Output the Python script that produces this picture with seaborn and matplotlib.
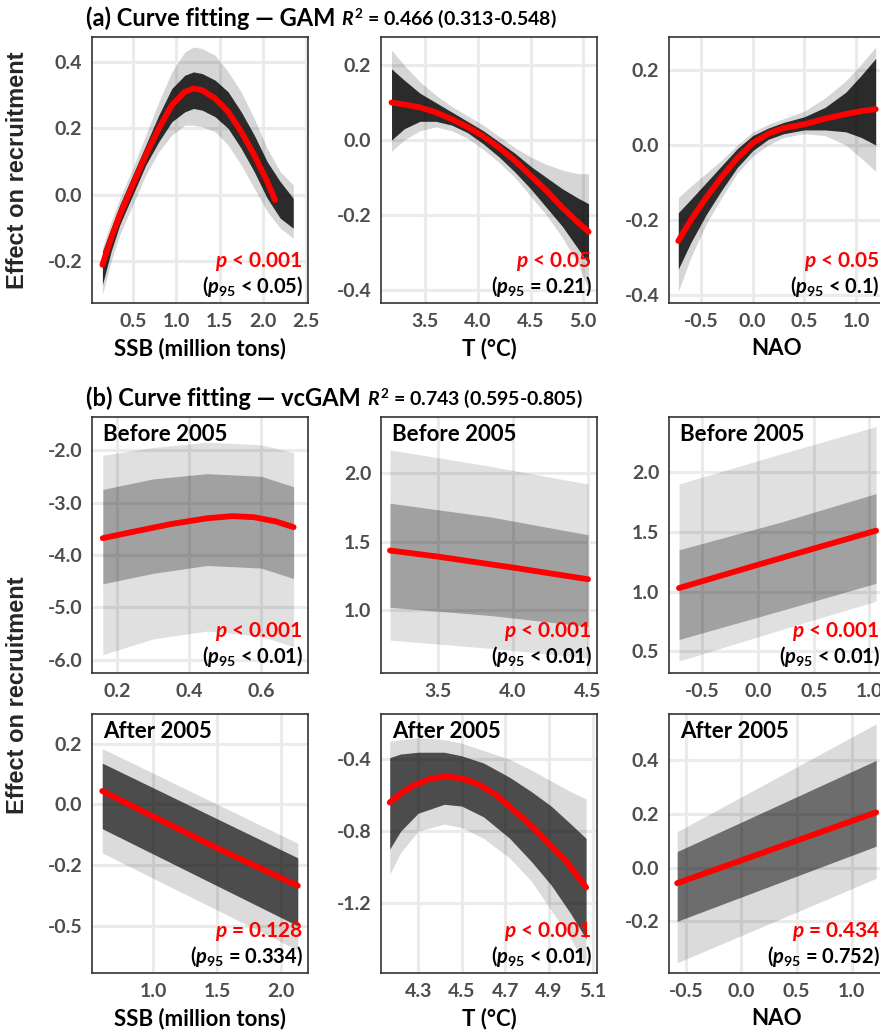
import numpy as np
import pandas as pd
import matplotlib
matplotlib.use("Agg")
import matplotlib.pyplot as plt
import seaborn as sns
from matplotlib.ticker import FixedLocator, FormatStrFormatter

# ---------------- data ----------------
# (a) GAM : SSB
a_ssb_x = [0.15, 0.25, 0.35, 0.5, 0.65, 0.8, 0.95, 1.1, 1.2, 1.3, 1.45, 1.6, 1.75, 1.9, 2.05, 2.14]
a_ssb_fit = [-0.21, -0.13, -0.06, 0.03, 0.12, 0.2, 0.27, 0.31, 0.32, 0.315, 0.29, 0.25, 0.19, 0.12, 0.04, -0.015]
a_ssb_bx = [0.15, 0.25, 0.35, 0.5, 0.65, 0.8, 0.95, 1.1, 1.2, 1.3, 1.45, 1.6, 1.75, 1.9, 2.05, 2.2, 2.35]
a_ssb_out_lo = [-0.30, -0.20, -0.12, -0.03, 0.06, 0.13, 0.18, 0.21, 0.21, 0.205, 0.19, 0.15, 0.09, 0.02, -0.05, -0.10, -0.13]
a_ssb_in_lo = [-0.27, -0.17, -0.09, 0.0, 0.09, 0.16, 0.22, 0.25, 0.26, 0.255, 0.235, 0.2, 0.14, 0.07, -0.01, -0.07, -0.10]
a_ssb_in_hi = [-0.17, -0.10, -0.03, 0.06, 0.15, 0.24, 0.32, 0.36, 0.37, 0.365, 0.345, 0.31, 0.25, 0.18, 0.10, 0.04, -0.01]
a_ssb_out_hi = [-0.16, -0.08, -0.01, 0.08, 0.18, 0.28, 0.37, 0.43, 0.445, 0.44, 0.42, 0.37, 0.31, 0.23, 0.14, 0.07, 0.03]

# (a) GAM : T
a_t_x = [3.18, 3.3, 3.45, 3.6, 3.75, 3.9, 4.05, 4.2, 4.35, 4.5, 4.65, 4.8, 4.95, 5.05]
a_t_fit = [0.10, 0.095, 0.087, 0.074, 0.056, 0.035, 0.01, -0.02, -0.055, -0.095, -0.135, -0.18, -0.22, -0.245]
a_t_out_lo = [-0.03, 0.0, 0.025, 0.035, 0.025, 0.005, -0.025, -0.06, -0.1, -0.15, -0.2, -0.26, -0.33, -0.40]
a_t_in_lo = [0.0, 0.03, 0.05, 0.05, 0.04, 0.02, -0.01, -0.045, -0.085, -0.13, -0.18, -0.23, -0.29, -0.33]
a_t_in_hi = [0.19, 0.16, 0.125, 0.1, 0.075, 0.05, 0.025, -0.005, -0.035, -0.07, -0.1, -0.13, -0.155, -0.17]
a_t_out_hi = [0.24, 0.2, 0.155, 0.12, 0.09, 0.065, 0.04, 0.01, -0.02, -0.045, -0.065, -0.08, -0.09, -0.09]

# (a) GAM : NAO
a_nao_x = [-0.72, -0.6, -0.45, -0.3, -0.15, 0.0, 0.15, 0.3, 0.5, 0.7, 0.9, 1.05, 1.19]
a_nao_fit = [-0.255, -0.2, -0.14, -0.085, -0.035, 0.005, 0.03, 0.045, 0.055, 0.07, 0.082, 0.09, 0.095]
a_nao_out_lo = [-0.39, -0.3, -0.21, -0.14, -0.075, -0.03, 0.0, 0.02, 0.03, 0.025, 0.0, -0.035, -0.07]
a_nao_in_lo = [-0.33, -0.26, -0.185, -0.12, -0.06, -0.015, 0.015, 0.03, 0.04, 0.04, 0.035, 0.02, 0.0]
a_nao_in_hi = [-0.18, -0.145, -0.1, -0.055, -0.01, 0.025, 0.045, 0.06, 0.075, 0.1, 0.14, 0.185, 0.23]
a_nao_out_hi = [-0.14, -0.11, -0.075, -0.04, 0.0, 0.035, 0.055, 0.07, 0.09, 0.125, 0.17, 0.215, 0.26]

# (b) vcGAM before 2005 : SSB
b_ssb_x = [0.16, 0.25, 0.35, 0.45, 0.52, 0.58, 0.64, 0.69]
b_ssb_fit = [-3.68, -3.55, -3.41, -3.3, -3.26, -3.28, -3.36, -3.47]
b_ssb_bx = [0.16, 0.3, 0.45, 0.6, 0.69]
b_ssb_out_lo = [-5.9, -5.6, -5.45, -5.55, -5.75]
b_ssb_in_lo = [-4.55, -4.35, -4.2, -4.25, -4.45]
b_ssb_in_hi = [-2.75, -2.55, -2.45, -2.5, -2.7]
b_ssb_out_hi = [-2.1, -1.95, -1.85, -1.9, -2.05]

# (b) before 2005 : T
b_t_x = [3.18, 3.5, 4.0, 4.5]
b_t_fit = [1.435, 1.39, 1.31, 1.225]
b_t_bx = [3.18, 3.85, 4.5]
b_t_out_lo = [0.78, 0.72, 0.65]
b_t_in_lo = [1.02, 0.96, 0.88]
b_t_in_hi = [1.78, 1.68, 1.55]
b_t_out_hi = [2.17, 2.05, 1.92]

# (b) before 2005 : NAO
b_nao_x = [-0.71, 0.0, 0.5, 1.06]
b_nao_fit = [1.03, 1.225, 1.36, 1.51]
b_nao_bx = [-0.71, 0.2, 1.06]
b_nao_out_lo = [0.42, 0.68, 0.92]
b_nao_in_lo = [0.60, 0.84, 1.07]
b_nao_in_hi = [1.35, 1.58, 1.82]
b_nao_out_hi = [1.90, 2.15, 2.38]

# (b) after 2005 : SSB
c_ssb_x = [0.6, 1.0, 1.5, 2.13]
c_ssb_fit = [0.055, -0.05, -0.18, -0.335]
c_ssb_bx = [0.6, 2.13]
c_ssb_out_lo = [-0.20, -0.60]
c_ssb_in_lo = [-0.10, -0.50]
c_ssb_in_hi = [0.17, -0.22]
c_ssb_out_hi = [0.23, -0.16]

# (b) after 2005 : T
c_t_x = [4.17, 4.22, 4.28, 4.35, 4.42, 4.5, 4.58, 4.66, 4.74, 4.82, 4.9, 4.98, 5.07]
c_t_fit = [-0.64, -0.59, -0.545, -0.51, -0.495, -0.505, -0.54, -0.6, -0.685, -0.77, -0.87, -0.97, -1.113]
c_t_bx = [4.17, 4.22, 4.3, 4.42, 4.5, 4.6, 4.72, 4.82, 4.91, 5.0, 5.07]
c_t_out_lo = [-1.04, -0.92, -0.8, -0.76, -0.78, -0.84, -0.95, -1.08, -1.24, -1.4, -1.55]
c_t_in_lo = [-0.9, -0.8, -0.7, -0.65, -0.66, -0.72, -0.84, -0.97, -1.1, -1.26, -1.4]
c_t_in_hi = [-0.39, -0.37, -0.36, -0.36, -0.38, -0.42, -0.5, -0.58, -0.66, -0.76, -0.84]
c_t_out_hi = [-0.30, -0.29, -0.28, -0.29, -0.31, -0.35, -0.40, -0.46, -0.52, -0.58, -0.62]

# (b) after 2005 : NAO
c_nao_x = [-0.58, 1.22]
c_nao_fit = [-0.058, 0.206]
c_nao_out_lo = [-0.355, -0.04]
c_nao_in_lo = [-0.20, 0.08]
c_nao_in_hi = [0.06, 0.40]
c_nao_out_hi = [0.134, 0.536]

# tick positions
a_ssb_xt = [0.5, 1.0, 1.5, 2.0, 2.5]; a_ssb_yt = [-0.2, 0.0, 0.2, 0.4]
a_t_xt = [3.5, 4.0, 4.5, 5.0]; a_t_yt = [-0.4, -0.2, 0.0, 0.2]
a_nao_xt = [-0.5, 0.0, 0.5, 1.0]; a_nao_yt = [-0.4, -0.2, 0.0, 0.2]
b_ssb_xt = [0.2, 0.4, 0.6]; b_ssb_yt = [-6.0, -5.0, -4.0, -3.0, -2.0]
b_t_xt = [3.5, 4.0, 4.5]; b_t_yt = [1.0, 1.5, 2.0]
b_nao_xt = [-0.5, 0.0, 0.5, 1.0]; b_nao_yt = [0.5, 1.0, 1.5, 2.0]
c_ssb_xt = [1.0, 1.5, 2.0]; c_ssb_yt = [-0.5, -0.25, 0.0, 0.25]
c_t_xt = [4.3, 4.5, 4.7, 4.9, 5.1]; c_t_yt = [-1.2, -0.8, -0.4]
c_nao_xt = [-0.5, 0.0, 0.5, 1.0]; c_nao_yt = [-0.2, 0.0, 0.2, 0.4]

p_main = ["< 0.001", "< 0.05", "< 0.05",
          "< 0.001", "< 0.001", "< 0.001",
          "= 0.128", "< 0.001", "= 0.434"]
p_95 = ["< 0.05", "= 0.21", "< 0.1",
        "< 0.01", "< 0.01", "< 0.01",
        "= 0.334", "< 0.01", "= 0.752"]
x_labels = ["SSB (million tons)", "T (°C)", "NAO"]

# ---------------- style ----------------
sns.set_theme(style="whitegrid")
plt.rcParams['font.family'] = ['Lato', 'DejaVu Sans']
plt.rcParams['font.weight'] = 'bold'
plt.rcParams['axes.labelweight'] = 'bold'
plt.rcParams['mathtext.fontset'] = 'custom'
plt.rcParams['mathtext.it'] = 'Lato:italic:bold'
plt.rcParams['mathtext.rm'] = 'Lato:bold'
plt.rcParams['mathtext.bf'] = 'Lato:bold'

W, H = 880, 1036
fig = plt.figure(figsize=(W / 100, H / 100), dpi=100, facecolor='white')

cols = [(92, 308), (381, 597), (669, 885)]
rows = [(37, 303), (417, 673), (714, 973)]


def add_ax(c, r):
    l, rr = cols[c]
    t, b = rows[r]
    return fig.add_axes([l / W, 1 - b / H, (rr - l) / W, (b - t) / H])


panels = [
    (a_ssb_x, a_ssb_fit, a_ssb_bx, a_ssb_out_lo, a_ssb_in_lo, a_ssb_in_hi, a_ssb_out_hi,
     (0.03, 2.52), (-0.325, 0.475), a_ssb_xt, a_ssb_yt, None, 0.16, 0.8),
    (a_t_x, a_t_fit, a_t_x, a_t_out_lo, a_t_in_lo, a_t_in_hi, a_t_out_hi,
     (3.08, 5.13), (-0.435, 0.275), a_t_xt, a_t_yt, None, 0.16, 0.8),
    (a_nao_x, a_nao_fit, a_nao_x, a_nao_out_lo, a_nao_in_lo, a_nao_in_hi, a_nao_out_hi,
     (-0.81, 1.28), (-0.42, 0.287), a_nao_xt, a_nao_yt, None, 0.16, 0.8),
    (b_ssb_x, b_ssb_fit, b_ssb_bx, b_ssb_out_lo, b_ssb_in_lo, b_ssb_in_hi, b_ssb_out_hi,
     (0.13, 0.73), (-6.25, -1.37), b_ssb_xt, b_ssb_yt, "Before 2005", 0.12, 0.28),
    (b_t_x, b_t_fit, b_t_bx, b_t_out_lo, b_t_in_lo, b_t_in_hi, b_t_out_hi,
     (3.12, 4.56), (0.54, 2.41), b_t_xt, b_t_yt, "Before 2005", 0.12, 0.28),
    (b_nao_x, b_nao_fit, b_nao_bx, b_nao_out_lo, b_nao_in_lo, b_nao_in_hi, b_nao_out_hi,
     (-0.8, 1.14), (0.32, 2.46), b_nao_xt, b_nao_yt, "Before 2005", 0.12, 0.28),
    (c_ssb_x, c_ssb_fit, c_ssb_bx, c_ssb_out_lo, c_ssb_in_lo, c_ssb_in_hi, c_ssb_out_hi,
     (0.52, 2.21), (-0.694, 0.372), c_ssb_xt, c_ssb_yt, "After 2005", 0.14, 0.65),
    (c_t_x, c_t_fit, c_t_bx, c_t_out_lo, c_t_in_lo, c_t_in_hi, c_t_out_hi,
     (4.13, 5.12), (-1.59, -0.147), c_t_xt, c_t_yt, "After 2005", 0.14, 0.65),
    (c_nao_x, c_nao_fit, c_nao_x, c_nao_out_lo, c_nao_in_lo, c_nao_in_hi, c_nao_out_hi,
     (-0.654, 1.3), (-0.393, 0.573), c_nao_xt, c_nao_yt, "After 2005", 0.14, 0.5),
]

px = 0.72  # pixels -> points at dpi 100

for i, (fx, fy, bx, olo, ilo, ihi, ohi, xl, yl, xt, yt, tag, a_out, a_in) in enumerate(panels):
    r, c = divmod(i, 3)
    ax = add_ax(c, r)
    ax.set_facecolor('white')

    # bootstrap envelope
    ax.fill_between(bx, olo, ohi, color='black', alpha=a_out, lw=0, zorder=2)
    ax.fill_between(bx, ilo, ihi, color='black', alpha=a_in, lw=0, zorder=3)

    # fitted curve
    sns.lineplot(x=fx, y=fy, ax=ax, color='red', lw=4.2, sort=False,
                 estimator=None, zorder=5)

    ax.set_xlim(*xl)
    ax.set_ylim(*yl)
    ax.xaxis.set_major_locator(FixedLocator(xt))
    ax.yaxis.set_major_locator(FixedLocator(yt))
    ax.xaxis.set_major_formatter(FormatStrFormatter('%.1f'))
    ax.yaxis.set_major_formatter(FormatStrFormatter('%.1f'))
    ax.grid(True, color='#EBEBEB', lw=2.2, zorder=0)
    ax.set_axisbelow(True)
    ax.tick_params(length=0, labelsize=14, labelcolor='#4D4D4D', pad=7)
    for sp in ax.spines.values():
        sp.set_color('#333333')
        sp.set_linewidth(1.2)
        sp.set_zorder(6)

    if r != 1:
        ax.set_xlabel(x_labels[c], fontsize=16, color='black', labelpad=6)
    else:
        ax.set_xlabel('')
    ax.set_ylabel('')

    if tag:
        ax.annotate(tag, xy=(0, 1), xycoords='axes fraction',
                    xytext=(11 * px, -24 * px), textcoords='offset points',
                    ha='left', va='baseline', fontsize=16, color='black')

    ax.annotate("$p$ " + p_main[i], xy=(1, 0), xycoords='axes fraction',
                xytext=(-5 * px, 36 * px), textcoords='offset points',
                ha='right', va='baseline', fontsize=15, color='#FF0000')
    ax.annotate("($p_{\\mathit{95}}$ " + p_95[i] + ")", xy=(1, 0), xycoords='axes fraction',
                xytext=(-5 * px, 10 * px), textcoords='offset points',
                ha='right', va='baseline', fontsize=14.5, color='black')

# y labels
for yc in (170, 695):
    fig.text(18 / W, 1 - yc / H, 'Effect on recruitment', rotation=90,
             family=['Liberation Sans', 'DejaVu Sans'], fontsize=17, weight='bold',
             ha='center', va='center')

# panel titles
renderer = fig.canvas.get_renderer()
for ty, head, r2 in [(18, '(a) Curve fitting — GAM', ' = 0.466 (0.313-0.548)'),
                     (398, '(b) Curve fitting — vcGAM', ' = 0.743 (0.595-0.805)')]:
    t = fig.text(86 / W, 1 - ty / H, head, fontsize=17, weight='bold',
                 ha='left', va='center', color='black')
    bb = t.get_window_extent(renderer)
    fig.text((bb.x1 + 6) / W, 1 - ty / H, "$R^{2}$" + r2, fontsize=14,
             weight='bold', ha='left', va='center', color='black')

fig.savefig('out.png', dpi=100, facecolor='white')
